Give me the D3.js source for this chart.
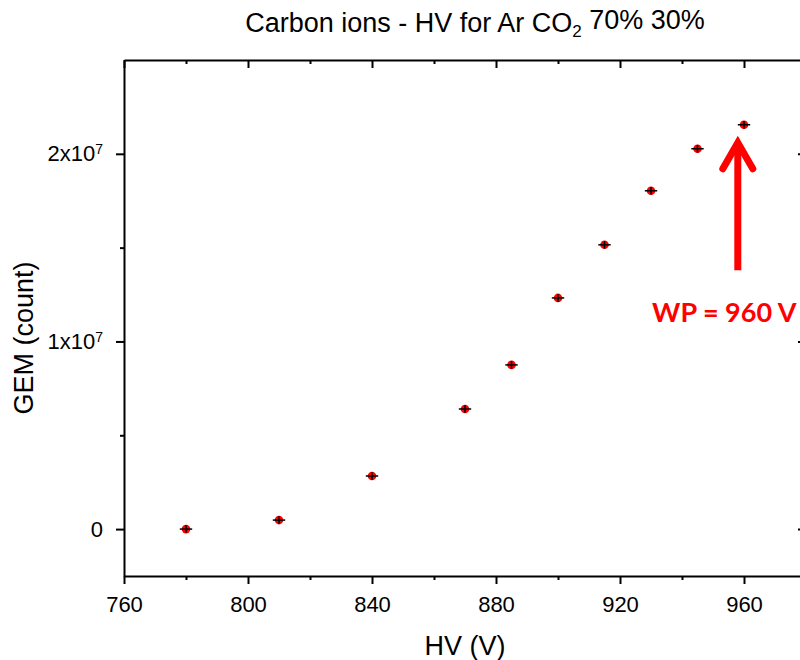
<!DOCTYPE html>
<html>
<head>
<meta charset="utf-8">
<script src="https://cdn.jsdelivr.net/npm/d3@7.9.0/dist/d3.min.js"></script>
<style>
  body { margin: 0; background: #fff; }
  svg { font-family: "Liberation Sans", Arial, sans-serif; }
</style>
</head>
<body>
<div id="chart"></div>
<script>
// HV (V) and GEM counts
const hv = [780, 810, 840, 870, 885, 900, 915, 930, 945, 960];
const counts = [0, 4.8e5, 2.83e6, 6.4e6, 8.75e6, 1.232e7, 1.515e7, 1.803e7, 2.027e7, 2.155e7];
const hvErr = [2, 2, 2, 2, 2, 2, 2, 2, 2, 2];
const countErr = [2e5, 2e5, 2e5, 2e5, 2e5, 2e5, 2e5, 2e5, 2e5, 2e5];
const xMajor = [760, 800, 840, 880, 920, 960];
const xMinor = [780, 820, 860, 900, 940];
const yMajor = [0, 1e7, 2e7];
const yMinor = [5e6, 1.5e7];

const width = 800, height = 660;
const margin = { top: 60, right: -6, bottom: 84, left: 124 };

const svg = d3.select('#chart').append('svg')
  .attr('width', width)
  .attr('height', height);

const xScale = d3.scaleLinear()
  .domain([760, 980])
  .range([margin.left, width - margin.right]);

const yScale = d3.scaleLinear()
  .domain([-2.5e6, 2.5e7])
  .range([height - margin.bottom, margin.top]);

const supFormat = (sel) => {
  sel.each(function (d) {
    const t = d3.select(this);
    t.text(null);
    if (d === 0) { t.text('0'); return; }
    const m = Math.round(d / 1e7);
    t.append('tspan').text(m + 'x10');
    t.append('tspan').attr('dy', '-0.5em').attr('font-size', '14px').text('7');
  });
};

function styleAxis(g) {
  g.select('.domain').attr('stroke-width', 2);
  g.selectAll('.tick line').attr('stroke-width', 2);
  g.selectAll('text').attr('font-size', '22px').attr('fill', '#000');
}

function minorTicks(g) {
  g.select('.domain').remove();
  g.selectAll('line').attr('stroke-width', 2);
}

// bottom axis
const bottomAxis = svg.append('g')
  .attr('transform', `translate(0,${yScale.range()[0]})`)
  .call(d3.axisBottom(xScale).tickValues(xMajor).tickSize(8).tickPadding(12).tickSizeOuter(0));
styleAxis(bottomAxis);
svg.append('g')
  .attr('transform', `translate(0,${yScale.range()[0]})`)
  .call(d3.axisBottom(xScale).tickValues(xMinor).tickSize(4).tickFormat('').tickSizeOuter(0))
  .call(minorTicks);

// top axis, ticks inward
const topAxis = svg.append('g')
  .attr('transform', `translate(0,${yScale.range()[1]})`)
  .call(d3.axisBottom(xScale).tickValues(xMajor).tickSize(8).tickFormat('').tickSizeOuter(0));
styleAxis(topAxis);
svg.append('g')
  .attr('transform', `translate(0,${yScale.range()[1]})`)
  .call(d3.axisBottom(xScale).tickValues(xMinor).tickSize(4).tickFormat('').tickSizeOuter(0))
  .call(minorTicks);

// left axis
const leftAxis = svg.append('g')
  .attr('transform', `translate(${xScale.range()[0]},0)`)
  .call(d3.axisLeft(yScale).tickValues(yMajor).tickSize(8).tickPadding(13).tickSizeOuter(0));
styleAxis(leftAxis);
leftAxis.selectAll('.tick text').call(supFormat);
svg.append('g')
  .attr('transform', `translate(${xScale.range()[0]},0)`)
  .call(d3.axisLeft(yScale).tickValues(yMinor).tickSize(4).tickFormat('').tickSizeOuter(0))
  .call(minorTicks);

// right axis, ticks inward
const rightAxis = svg.append('g')
  .attr('transform', `translate(${xScale.range()[1]},0)`)
  .call(d3.axisRight(yScale).tickValues(yMajor).tickSize(-8).tickFormat('').tickSizeOuter(0));
styleAxis(rightAxis);
svg.append('g')
  .attr('transform', `translate(${xScale.range()[1]},0)`)
  .call(d3.axisRight(yScale).tickValues(yMinor).tickSize(-4).tickFormat('').tickSizeOuter(0))
  .call(minorTicks);

// data points
const points = hv.map((v, i) => ({ x: v, y: counts[i], ex: hvErr[i], ey: countErr[i] }));
const pts = svg.append('g').attr('class', 'points');

pts.selectAll('circle')
  .data(points)
  .join('circle')
  .attr('cx', (d) => xScale(d.x))
  .attr('cy', (d) => yScale(d.y))
  .attr('r', 4.3)
  .attr('fill', '#ff0000');

pts.selectAll('line.ex')
  .data(points)
  .join('line')
  .attr('class', 'ex')
  .attr('x1', (d) => xScale(d.x - d.ex))
  .attr('x2', (d) => xScale(d.x + d.ex))
  .attr('y1', (d) => yScale(d.y))
  .attr('y2', (d) => yScale(d.y))
  .attr('stroke', '#000')
  .attr('stroke-width', 1.5);

pts.selectAll('line.ey')
  .data(points)
  .join('line')
  .attr('class', 'ey')
  .attr('x1', (d) => xScale(d.x))
  .attr('x2', (d) => xScale(d.x))
  .attr('y1', (d) => yScale(d.y - d.ey))
  .attr('y2', (d) => yScale(d.y + d.ey))
  .attr('stroke', '#000')
  .attr('stroke-width', 1.5);

// arrow pointing at the working point
const ax = xScale(958);
const tipY = yScale(2.08e7);
const baseY = yScale(1.38e7);
const arrow = svg.append('g')
  .attr('stroke', '#ff0000')
  .attr('stroke-width', 7)
  .attr('fill', 'none');
arrow.append('line')
  .attr('x1', ax).attr('x2', ax)
  .attr('y1', baseY).attr('y2', tipY + 4);
arrow.append('path')
  .attr('stroke-linecap', 'round')
  .attr('stroke-linejoin', 'miter')
  .attr('d', `M${ax - 15},${tipY + 30}L${ax},${tipY + 4}L${ax + 15},${tipY + 30}`);

svg.append('text')
  .attr('x', 652)
  .attr('y', 322)
  .attr('fill', '#ff0000')
  .attr('font-family', 'Lato, "Open Sans", sans-serif')
  .attr('font-weight', 'bold')
  .attr('font-size', '27px')
  .text('WP = 960 V');

// title
const title = svg.append('text')
  .attr('x', 475)
  .attr('y', 32)
  .attr('text-anchor', 'middle')
  .attr('font-size', '27px');
title.append('tspan').text('Carbon ions - HV for Ar CO');
title.append('tspan').attr('dy', '0.3em').attr('font-size', '17px').text('2');
title.append('tspan').attr('dy', '-0.3em').text(' 70% 30%');

// axis titles
svg.append('text')
  .attr('x', 465)
  .attr('y', 655)
  .attr('text-anchor', 'middle')
  .attr('font-size', '27px')
  .text('HV (V)');

svg.append('text')
  .attr('transform', `translate(33,338) rotate(-90)`)
  .attr('text-anchor', 'middle')
  .attr('font-size', '27px')
  .text('GEM (count)');
</script>
</body>
</html>
